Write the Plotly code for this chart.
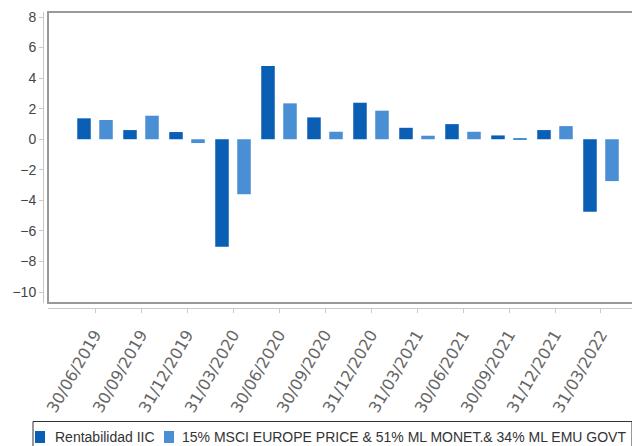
import plotly.graph_objects as go

dates = ["30/06/2019", "30/09/2019", "31/12/2019", "31/03/2020", "30/06/2020", "30/09/2020",
         "31/12/2020", "31/03/2021", "30/06/2021", "30/09/2021", "31/12/2021", "31/03/2022"]
rentabilidad_iic = [1.37, 0.60, 0.47, -7.03, 4.79, 1.43, 2.39, 0.75, 0.99, 0.25, 0.60, -4.74]
indice_ref = [1.26, 1.54, -0.25, -3.60, 2.35, 0.49, 1.87, 0.23, 0.49, 0.02, 0.86, -2.74]
series_names = ["Rentabilidad IIC", "15% MSCI EUROPE PRICE & 51% ML MONET.& 34% ML EMU GOVT"]
series_colors = ["#0a5fb4", "#4a8ed3"]
y_ticks = [-10, -8, -6, -4, -2, 0, 2, 4, 6, 8]

W, H = 640, 446
OFF = 8  # page body margin offset of the rendered figure
ml, mr, mt, mb = 43 - OFF, 0, 12 - OFF, 100
pw, ph = W - ml - mr, H - mt - mb

def px_x(p):
    return (p - OFF - ml) / pw

def px_y(p):
    return (H - mb - (p - OFF)) / ph

fig = go.Figure()
for vals, name, col in zip([rentabilidad_iic, indice_ref], series_names, series_colors):
    fig.add_trace(go.Bar(x=dates, y=vals, name=name,
                         marker=dict(color=col, line=dict(width=0))))

# manual legend (box, swatches, labels)
shapes = [dict(type="rect", xref="x domain", yref="y domain", x0=0, x1=1.05, y0=0, y1=1,
               line=dict(color="#999", width=2), layer="below"),
          dict(type="rect", xref="paper", yref="paper", x0=px_x(33), x1=px_x(632),
               y0=px_y(452), y1=px_y(421.5), line=dict(color="#333", width=1))]
annotations = []
swatch_x = [35, 164]
text_x = [53, 180]
for sx, tx, name, col in zip(swatch_x, text_x, series_names, series_colors):
    shapes.append(dict(type="rect", xref="paper", yref="paper",
                       x0=px_x(sx), x1=px_x(sx + 10), y0=px_y(443), y1=px_y(431),
                       fillcolor=col, line=dict(width=0)))
    annotations.append(dict(text=name, xref="paper", yref="paper", x=px_x(tx), y=px_y(437),
                            xanchor="left", yanchor="middle", showarrow=False,
                            font=dict(family="Liberation Sans", size=14, color="#333")))

fig.update_layout(
    width=W, height=H,
    margin=dict(l=ml, r=mr, t=mt, b=mb, autoexpand=False),
    paper_bgcolor="white", plot_bgcolor="white",
    barmode="group", bargap=0.043, bargroupgap=0.386,
    showlegend=False,
    xaxis=dict(domain=[px_x(48), 1], range=[-1.022, 11.848 + OFF / 46], type="category",
               anchor="free", position=px_y(308),
               showline=True, linecolor="#c8c8c8", linewidth=1,
               ticks="outside", ticklen=4, tickcolor="#c8c8c8",
               tickangle=-60, ticklabelstandoff=6,
               showgrid=False, zeroline=False, automargin=False,
               tickfont=dict(family="DejaVu Sans", size=16, color="#666")),
    yaxis=dict(domain=[px_y(303), 1], range=[-10.72, 8.33],
               anchor="free", position=0,
               tickvals=y_ticks,
               showline=True, linecolor="#c8c8c8", linewidth=1,
               ticks="outside", ticklen=4, tickcolor="#c8c8c8",
               showgrid=False, zeroline=False, automargin=False,
               tickfont=dict(family="Liberation Sans", size=14, color="#444")),
    shapes=shapes,
    annotations=annotations,
)

fig.write_html("out.html")
